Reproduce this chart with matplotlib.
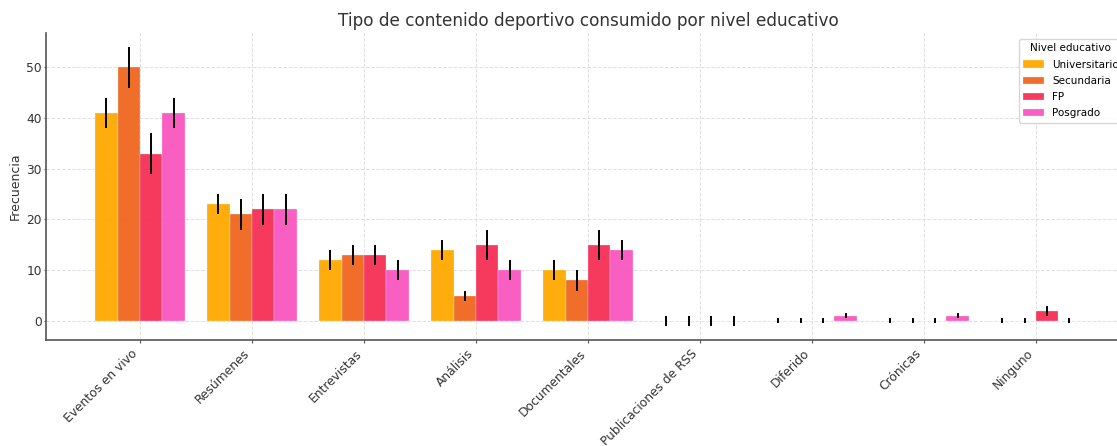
import matplotlib
matplotlib.use("Agg")
import matplotlib.pyplot as plt
import numpy as np

categories = ["Eventos en vivo", "Resúmenes", "Entrevistas", "Análisis", "Documentales",
              "Publicaciones de RSS", "Diferido", "Crónicas", "Ninguno"]
series_names = ["Universitario", "Secundaria", "FP", "Posgrado"]

universitario = [41, 23, 12, 14, 10, 0, 0, 0, 0]
secundaria = [50, 21, 13, 5, 8, 0, 0, 0, 0]
fp = [33, 22, 13, 15, 15, 0, 0, 0, 2]
posgrado = [41, 22, 10, 10, 14, 0, 1, 1, 0]

err_universitario = [3, 2, 2, 2, 2, 1, 0.5, 0.5, 0.5]
err_secundaria = [4, 3, 2, 1, 2, 1, 0.5, 0.5, 0.5]
err_fp = [4, 3, 2, 3, 3, 1, 0.5, 0.5, 1]
err_posgrado = [3, 3, 2, 2, 2, 1, 0.5, 0.5, 0.5]

colors = ["#FFA800", "#F0661E", "#F52F55", "#F955C0"]

values = [universitario, secundaria, fp, posgrado]
errors = [err_universitario, err_secundaria, err_fp, err_posgrado]

fig = plt.figure(figsize=(11.17, 4.46), dpi=100)
ax = fig.add_axes([0.0412, 0.2377, 0.9704, 0.6883])

x = np.arange(len(categories))
width = 0.2
for i, (name, vals, errs, c) in enumerate(zip(series_names, values, errors, colors)):
    pos = x + (i - 1.5) * width
    ax.bar(pos, vals, width, color=c, alpha=0.95, label=name, zorder=2,
           edgecolor="white", linewidth=0.2)
    ax.errorbar(pos, vals, yerr=errs, fmt="none", ecolor="black",
                elinewidth=1.4, capsize=0, zorder=3)

ax.set_title("Tipo de contenido deportivo consumido por nivel educativo",
             fontsize=12.2, color="#333333", pad=5)
ax.set_ylabel("Frecuencia", fontsize=9, color="#333333", labelpad=3)
ax.set_xticks(x)
ax.set_xticklabels(categories, rotation=45, ha="right",
                   fontsize=8.8, color="#333333")
ax.set_yticks([0, 10, 20, 30, 40, 50])
ax.tick_params(axis="y", labelsize=8.8, labelcolor="#333333", color="#555555",
               length=1.5, pad=1.5)
ax.tick_params(axis="x", color="#555555", length=2, pad=3)
ax.set_xlim(-0.84, 8.84)
ax.set_ylim(-3.75, 56.75)

ax.grid(True, linestyle="--", color="#e0e0e0", linewidth=0.7, zorder=0)
ax.set_axisbelow(True)
for s in ["top", "right"]:
    ax.spines[s].set_visible(False)
for s in ["left", "bottom"]:
    ax.spines[s].set_color("#555555")
    ax.spines[s].set_linewidth(1.2)

leg = ax.legend(title="Nivel educativo", loc="upper right", fontsize=7.5,
                title_fontsize=7.5, frameon=True, borderaxespad=0.3,
                bbox_to_anchor=(0.9963, 0.99), labelspacing=0.6)
leg.get_frame().set_edgecolor("#cccccc")

fig.savefig("out.png", dpi=100)
